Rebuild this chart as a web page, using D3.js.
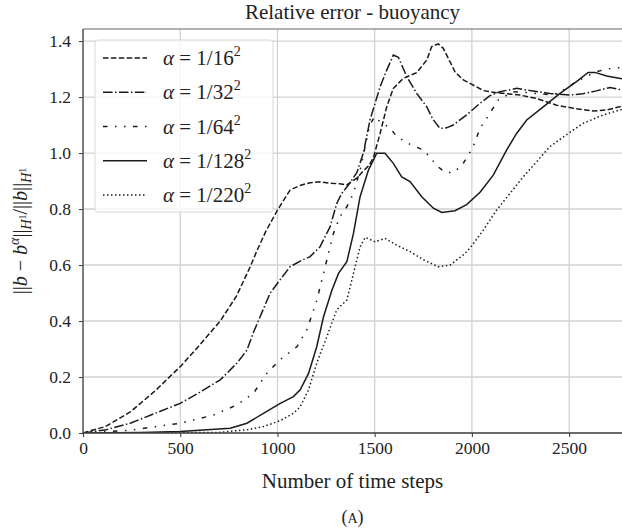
<!DOCTYPE html>
<html>
<head>
<meta charset="utf-8">
<script src="https://cdn.jsdelivr.net/npm/d3@7"></script>
<style>
  body { margin: 0; background: #fff; }
  svg text { font-family: "Liberation Serif", "DejaVu Serif", serif; fill: #222; }
</style>
</head>
<body>
<svg id="chart" width="622" height="530"></svg>
<script>
// values, one x/y pair of arrays per curve
var steps16 = [0, 115, 243, 370, 500, 577, 706, 790, 860, 894, 940, 1000, 1065, 1120, 1168, 1220, 1271, 1320, 1356, 1408, 1440, 1470, 1494, 1528, 1562, 1596, 1648, 1716, 1768, 1793, 1827, 1853, 1913, 1956, 1990, 2059, 2127, 2247, 2333, 2436, 2521, 2624, 2693, 2772];
var err16 = [0, 0.023, 0.075, 0.15, 0.237, 0.296, 0.40, 0.49, 0.594, 0.65, 0.72, 0.796, 0.868, 0.885, 0.894, 0.897, 0.892, 0.89, 0.886, 0.91, 0.935, 0.955, 0.985, 1.07, 1.165, 1.231, 1.267, 1.287, 1.332, 1.38, 1.39, 1.374, 1.29, 1.261, 1.249, 1.223, 1.215, 1.207, 1.195, 1.171, 1.16, 1.15, 1.154, 1.167];

var steps32 = [0, 120, 243, 370, 500, 600, 706, 791, 843, 877, 962, 1000, 1065, 1120, 1168, 1219, 1271, 1305, 1330, 1365, 1408, 1442, 1476, 1528, 1562, 1596, 1622, 1665, 1716, 1768, 1800, 1836, 1870, 1904, 1973, 2042, 2093, 2144, 2230, 2299, 2401, 2504, 2571, 2640, 2710, 2772];
var err32 = [0, 0.012, 0.035, 0.07, 0.106, 0.145, 0.19, 0.249, 0.296, 0.36, 0.499, 0.535, 0.594, 0.615, 0.63, 0.665, 0.737, 0.82, 0.855, 0.886, 0.93, 1.0, 1.118, 1.237, 1.296, 1.35, 1.342, 1.273, 1.213, 1.165, 1.12, 1.088, 1.09, 1.1, 1.136, 1.178, 1.205, 1.219, 1.231, 1.223, 1.213, 1.207, 1.212, 1.222, 1.234, 1.225];

var steps64 = [0, 243, 500, 671, 791, 877, 945, 1010, 1100, 1151, 1203, 1254, 1288, 1322, 1357, 1391, 1425, 1450, 1475, 1500, 1530, 1579, 1613, 1682, 1750, 1785, 1819, 1862, 1904, 1948, 1982, 2007, 2042, 2076, 2136, 2213, 2300, 2418, 2470, 2538, 2590, 2640, 2693, 2772];
var err64 = [0, 0.01, 0.035, 0.064, 0.1, 0.142, 0.213, 0.26, 0.308, 0.368, 0.475, 0.618, 0.713, 0.773, 0.808, 0.856, 0.939, 1.02, 1.1, 1.13, 1.11, 1.09, 1.059, 1.031, 1.011, 0.985, 0.955, 0.931, 0.93, 0.955, 0.993, 1.023, 1.088, 1.124, 1.19, 1.219, 1.215, 1.207, 1.225, 1.255, 1.274, 1.29, 1.3, 1.306];

var steps128 = [0, 300, 500, 757, 843, 928, 1010, 1082, 1117, 1160, 1202, 1237, 1280, 1314, 1357, 1391, 1425, 1468, 1510, 1553, 1596, 1639, 1682, 1742, 1802, 1845, 1913, 1973, 2042, 2110, 2179, 2230, 2282, 2367, 2453, 2538, 2598, 2633, 2693, 2772];
var err128 = [0, 0.002, 0.005, 0.017, 0.035, 0.07, 0.104, 0.13, 0.154, 0.213, 0.308, 0.415, 0.51, 0.57, 0.612, 0.713, 0.844, 0.939, 0.999, 0.999, 0.963, 0.915, 0.898, 0.844, 0.803, 0.788, 0.794, 0.816, 0.86, 0.921, 1.011, 1.07, 1.118, 1.165, 1.213, 1.255, 1.288, 1.288, 1.275, 1.265];

var steps220 = [0, 700, 843, 928, 1014, 1082, 1117, 1160, 1202, 1254, 1305, 1357, 1391, 1425, 1451, 1502, 1553, 1613, 1682, 1750, 1827, 1888, 1956, 1990, 2059, 2127, 2196, 2264, 2333, 2401, 2496, 2572, 2675, 2772];
var err220 = [0, 0.002, 0.012, 0.023, 0.044, 0.07, 0.094, 0.154, 0.249, 0.344, 0.44, 0.475, 0.57, 0.665, 0.699, 0.683, 0.695, 0.671, 0.648, 0.619, 0.594, 0.6, 0.636, 0.66, 0.725, 0.796, 0.856, 0.915, 0.969, 1.023, 1.07, 1.106, 1.136, 1.156];

var alphaLabels = ["16", "32", "64", "128", "220"];
var xTicks = [0, 500, 1000, 1500, 2000, 2500];
var yTicks = [0.0, 0.2, 0.4, 0.6, 0.8, 1.0, 1.2, 1.4];

var series = [
  { label: alphaLabels[0], x: steps16, y: err16, dash: "5.5,2.4" },
  { label: alphaLabels[1], x: steps32, y: err32, dash: "9.6,2.4,1.5,2.4" },
  { label: alphaLabels[2], x: steps64, y: err64, dash: "4.5,7.5,1.5,7.5,1.5,7.5" },
  { label: alphaLabels[3], x: steps128, y: err128, dash: null },
  { label: alphaLabels[4], x: steps220, y: err220, dash: "1.5,2.5" }
];

var svg = d3.select("#chart");
var pLeft = 83, pRight = 622, pTop = 29, pBottom = 433;

var xScale = d3.scaleLinear().domain([0, 2772]).range([pLeft, pRight]);
var yScale = d3.scaleLinear().domain([0, 1.443]).range([pBottom, pTop]);

// grid
var grid = svg.append("g");
grid.selectAll(".gx").data(xTicks).enter().append("line")
  .attr("x1", function (d) { return xScale(d); }).attr("x2", function (d) { return xScale(d); })
  .attr("y1", pTop).attr("y2", pBottom)
  .attr("stroke", "#d2d2d2").attr("stroke-width", 1.3);
grid.selectAll(".gy").data(yTicks).enter().append("line")
  .attr("x1", pLeft).attr("x2", pRight)
  .attr("y1", function (d) { return yScale(d); }).attr("y2", function (d) { return yScale(d); })
  .attr("stroke", "#d2d2d2").attr("stroke-width", 1.3);

// curves
svg.append("clipPath").attr("id", "clip").append("rect")
  .attr("x", pLeft).attr("y", pTop).attr("width", pRight - pLeft).attr("height", pBottom - pTop);

var line = d3.line()
  .x(function (d) { return xScale(d[0]); })
  .y(function (d) { return yScale(d[1]); });

var curves = svg.append("g").attr("clip-path", "url(#clip)");
series.forEach(function (s) {
  curves.append("path")
    .attr("d", line(d3.zip(s.x, s.y)))
    .attr("fill", "none")
    .attr("stroke", "#1a1a1a")
    .attr("stroke-width", 1.5)
    .attr("stroke-dasharray", s.dash);
});

// axes
var xAxis = svg.append("g")
  .attr("transform", "translate(0," + pBottom + ")")
  .call(d3.axisBottom(xScale).tickValues(xTicks).tickSize(4).tickPadding(5).tickFormat(d3.format("d")));
var yAxis = svg.append("g")
  .attr("transform", "translate(" + pLeft + ",0)")
  .call(d3.axisLeft(yScale).tickValues(yTicks).tickSize(4).tickPadding(8).tickFormat(d3.format(".1f")));
[xAxis, yAxis].forEach(function (ax) {
  ax.select(".domain").remove();
  ax.selectAll(".tick line").attr("stroke", "#444").attr("stroke-width", 1.1);
  ax.selectAll(".tick text").attr("font-size", 17.5).attr("fill", "#333")
    .style("font-family", "'Liberation Serif', serif");
});

// frame
svg.append("line").attr("x1", pLeft).attr("x2", pLeft).attr("y1", pTop).attr("y2", pBottom)
  .attr("stroke", "#444").attr("stroke-width", 1.3);
svg.append("line").attr("x1", pLeft).attr("x2", pRight).attr("y1", pBottom).attr("y2", pBottom)
  .attr("stroke", "#444").attr("stroke-width", 1.3);
svg.append("line").attr("x1", pLeft).attr("x2", pRight).attr("y1", pTop).attr("y2", pTop)
  .attr("stroke", "#666").attr("stroke-width", 1.1);

// title and labels
svg.append("text").attr("x", (pLeft + pRight) / 2).attr("y", 19)
  .attr("text-anchor", "middle").attr("font-size", 21).text("Relative error - buoyancy");

svg.append("text").attr("x", (pLeft + pRight) / 2).attr("y", 488)
  .attr("text-anchor", "middle").attr("font-size", 21).text("Number of time steps");

var cap = svg.append("text").attr("x", (pLeft + pRight) / 2).attr("y", 523)
  .attr("text-anchor", "middle").attr("font-size", 18);
cap.append("tspan").text("(");
cap.append("tspan").attr("font-size", 14).text("A");
cap.append("tspan").text(")");

var yl = svg.append("text")
  .attr("transform", "rotate(-90)")
  .attr("x", -(pTop + pBottom) / 2).attr("y", 27)
  .attr("text-anchor", "middle").attr("font-size", 20);
yl.append("tspan").text("||");
yl.append("tspan").attr("font-style", "italic").text("b");
yl.append("tspan").text(" \u2212 ");
yl.append("tspan").attr("font-style", "italic").text("b");
yl.append("tspan").attr("font-style", "italic").attr("font-size", 14).attr("dy", -8).text("\u03b1");
yl.append("tspan").attr("dy", 8).text("||");
yl.append("tspan").attr("font-style", "italic").attr("font-size", 14).attr("dy", 4).text("H");
yl.append("tspan").attr("font-size", 10).attr("dy", -5).text("1");
yl.append("tspan").attr("dy", 1).text("/||");
yl.append("tspan").attr("font-style", "italic").text("b");
yl.append("tspan").text("||");
yl.append("tspan").attr("font-style", "italic").attr("font-size", 14).attr("dy", 4).text("H");
yl.append("tspan").attr("font-size", 10).attr("dy", -5).text("1");

// legend
var legend = svg.append("g");
legend.append("rect")
  .attr("x", 95).attr("y", 40).attr("width", 178).attr("height", 172)
  .attr("rx", 3).attr("fill", "#fff").attr("fill-opacity", 0.8)
  .attr("stroke", "#d9d9d9").attr("stroke-width", 1);

var rowY = d3.scaleLinear().domain([0, 4]).range([58, 195]);
series.forEach(function (s, i) {
  var yy = rowY(i);
  legend.append("line")
    .attr("x1", 103).attr("x2", 147).attr("y1", yy).attr("y2", yy)
    .attr("stroke", "#1a1a1a").attr("stroke-width", 1.5)
    .attr("stroke-dasharray", s.dash);
  var t = legend.append("text").attr("x", 163).attr("y", yy + 7).attr("font-size", 21);
  t.append("tspan").attr("font-style", "italic").text("\u03b1");
  t.append("tspan").text(" = 1/" + s.label);
  t.append("tspan").attr("font-size", 14).attr("dy", -9).text("2");
});
</script>
</body>
</html>
